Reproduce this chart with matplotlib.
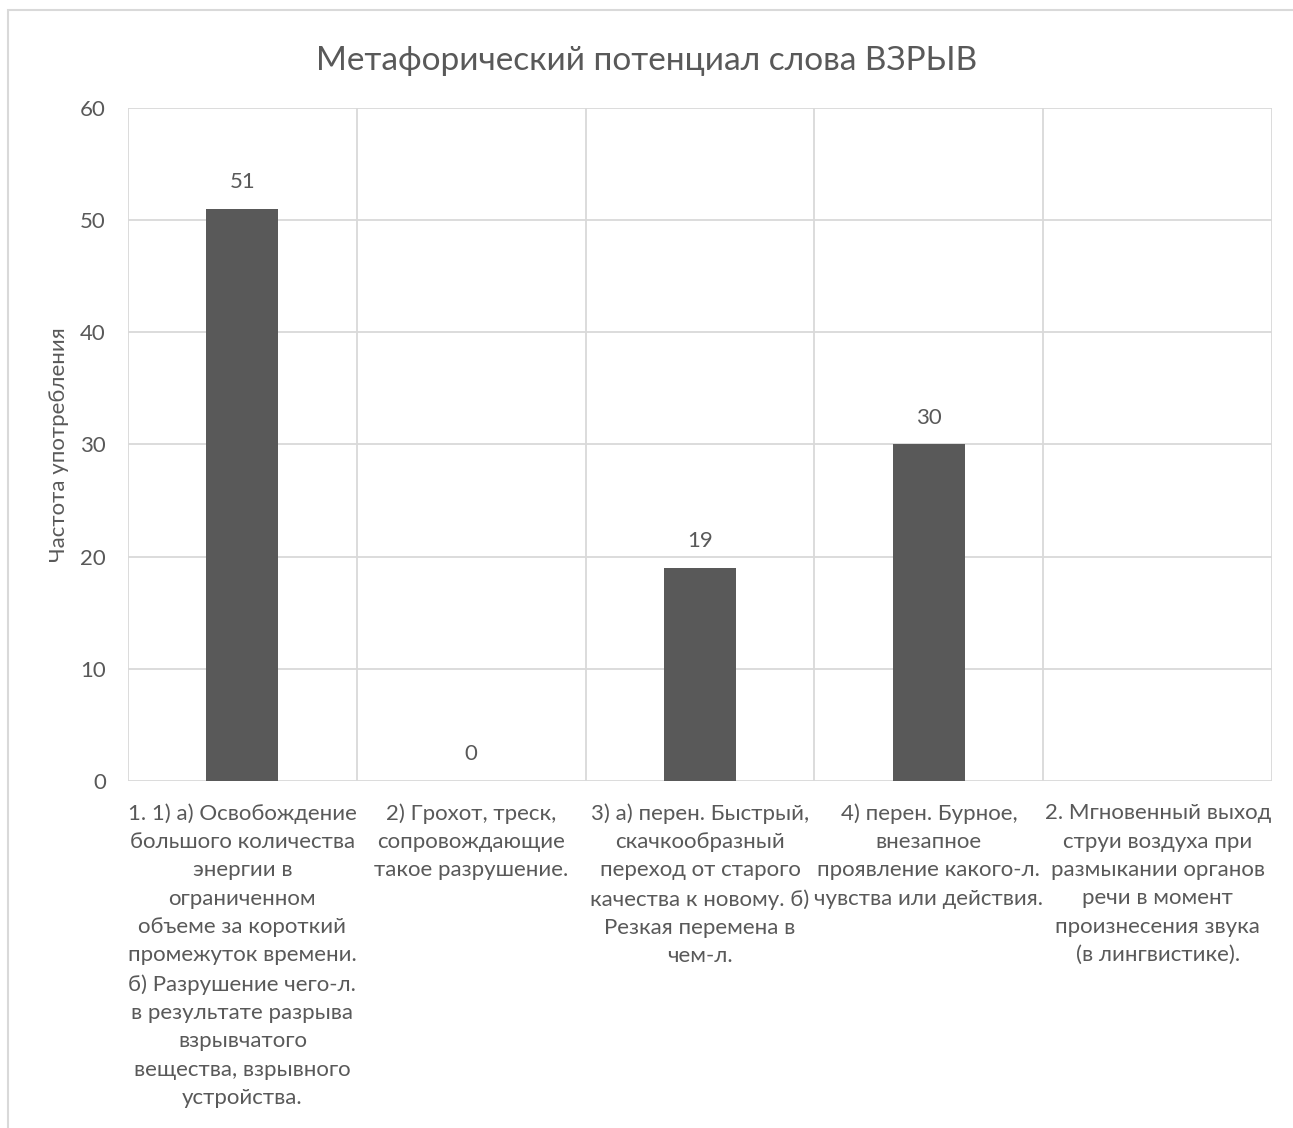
import numpy as np
import matplotlib.pyplot as plt
from matplotlib.patches import Rectangle

plt.rcParams['font.family'] = ['Lato', 'DejaVu Sans']

# -------------------- Data --------------------
categories = [
    "1. 1) а) Освобождение\nбольшого количества\nэнергии в\nограниченном\nобъеме за короткий\nпромежуток времени.\nб) Разрушение чего-л.\nв результате разрыва\nвзрывчатого\nвещества, взрывного\nустройства.",
    "2) Грохот, треск,\nсопровождающие\nтакое разрушение.",
    "3) а) перен. Быстрый,\nскачкообразный\nпереход от старого\nкачества к новому. б)\nРезкая перемена в\nчем-л.",
    "4) перен. Бурное,\nвнезапное\nпроявление какого-л.\nчувства или действия.",
    "2. Мгновенный выход\nструи воздуха при\nразмыкании органов\nречи в момент\nпроизнесения звука\n(в лингвистике).",
]
values = [51, 0, 19, 30, None]

title = "Метафорический потенциал слова ВЗРЫВ"
ylabel = "Частота употребления"

text_color = "#595959"
grid_color = "#d9d9d9"
bar_color = "#595959"

# -------------------- Plot --------------------
fig = plt.figure(figsize=(12.93, 11.28), dpi=100)
ax = fig.add_axes([0.099, 0.3076, 0.8848, 0.5967])

# chart border
fig.patches.append(Rectangle((8 / 1293, -0.1), 1.2, 1 - 10 / 1128 + 0.1,
                             transform=fig.transFigure, fill=False,
                             edgecolor=grid_color, linewidth=1.5))

x = np.arange(len(categories))
heights = [v if v is not None else 0 for v in values]
ax.bar(x, heights, width=0.315, color=bar_color, zorder=3)

for xi, v in zip(x, values):
    if v is None:
        continue
    ax.text(xi, v + 1.5, f"{v}", ha='center', va='bottom',
            fontsize=16, color=text_color)

ax.set_xlim(-0.5, len(categories) - 0.5)
ax.set_ylim(0, 60)
ax.set_yticks(range(0, 61, 10))
ax.yaxis.grid(True, color=grid_color, linewidth=1.3, zorder=0)

# vertical separators between categories
for b in np.arange(-0.5, len(categories), 1.0):
    ax.axvline(b, color=grid_color, linewidth=1.3, zorder=0)

for s in ax.spines.values():
    s.set_visible(False)

ax.set_xticks(x)
ax.set_xticklabels(categories, fontsize=16, color=text_color,
                   linespacing=1.52, va='top')
ax.tick_params(axis='x', length=0, pad=16)
ax.tick_params(axis='y', length=0, pad=16, labelsize=16, labelcolor=text_color)

ax.set_ylabel(ylabel, fontsize=16, color=text_color, labelpad=8)
fig.suptitle(title, fontsize=24, color=text_color, y=0.959)

fig.savefig("out.png", dpi=100)
plt.close(fig)
